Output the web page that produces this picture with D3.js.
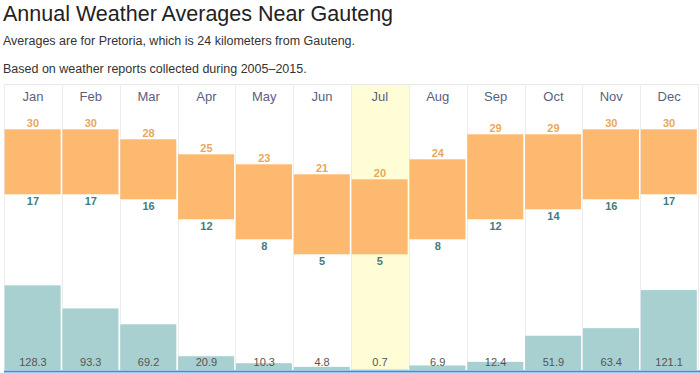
<!DOCTYPE html>
<html>
<head>
<meta charset="utf-8">
<script src="https://cdn.jsdelivr.net/npm/d3@7"></script>
<style>
  body { margin: 0; background: #fff; }
  text { font-family: "Liberation Sans", Arial, sans-serif; }
</style>
</head>
<body>
<svg id="chart"></svg>
<script>
var months = ["Jan", "Feb", "Mar", "Apr", "May", "Jun", "Jul", "Aug", "Sep", "Oct", "Nov", "Dec"];
var highTemps = [30, 30, 28, 25, 23, 21, 20, 24, 29, 29, 30, 30];
var lowTemps = [17, 17, 16, 12, 8, 5, 5, 8, 12, 14, 16, 17];
var precip = [128.3, 93.3, 69.2, 20.9, 10.3, 4.8, 0.7, 6.9, 12.4, 51.9, 63.4, 121.1];
var currentMonth = "Jul";

var width = 700;
var height = 373;
var margin = {top: 84, bottom: 370, left: 4, right: 698};

var svg = d3.select("#chart")
    .attr("width", width)
    .attr("height", height);

// titles
svg.append("text")
    .attr("x", 3).attr("y", 21)
    .style("font-size", "21.5px")
    .style("fill", "#222")
    .text("Annual Weather Averages Near Gauteng");

svg.append("text")
    .attr("x", 3).attr("y", 45)
    .style("font-size", "12.5px")
    .style("fill", "#333")
    .text("Averages are for Pretoria, which is 24 kilometers from Gauteng.");

svg.append("text")
    .attr("x", 3).attr("y", 73)
    .style("font-size", "12.5px")
    .style("fill", "#333")
    .text("Based on weather reports collected during 2005\u20132015.");

var xScale = d3.scaleBand()
    .domain(months)
    .range([margin.left, margin.right])
    .paddingInner(0);

var tempScale = d3.scaleLinear()
    .domain([0, 30])
    .range([279.3, 129.3]);

var precipScale = d3.scaleLinear()
    .domain([0, 140])
    .range([margin.bottom, margin.bottom - 0.66 * 140]);

// highlighted month
svg.append("rect")
    .attr("x", xScale(currentMonth))
    .attr("y", margin.top)
    .attr("width", xScale.bandwidth())
    .attr("height", margin.bottom - margin.top)
    .style("fill", "#fffdd5");

// grid: top line and column dividers
svg.append("line")
    .attr("x1", margin.left).attr("x2", margin.right)
    .attr("y1", margin.top + 0.5).attr("y2", margin.top + 0.5)
    .style("stroke", "#e6e6e6");

svg.selectAll(".divider")
    .data(months.concat(["end"]))
    .enter().append("line")
    .attr("class", "divider")
    .attr("x1", function (d, i) { return Math.round(margin.left + i * xScale.bandwidth()) + 0.5; })
    .attr("x2", function (d, i) { return Math.round(margin.left + i * xScale.bandwidth()) + 0.5; })
    .attr("y1", margin.top)
    .attr("y2", margin.bottom)
    .style("stroke", "#ececec");

// month labels
svg.selectAll(".month")
    .data(months)
    .enter().append("text")
    .attr("class", "month")
    .attr("x", function (d) { return xScale(d) + xScale.bandwidth() / 2; })
    .attr("y", 101)
    .attr("text-anchor", "middle")
    .style("font-size", "13px")
    .style("fill", "#5a5f82")
    .text(function (d) { return d; });

// temperature range bars
svg.selectAll(".temp")
    .data(months)
    .enter().append("rect")
    .attr("class", "temp")
    .attr("x", function (d) { return xScale(d) + 0.6; })
    .attr("y", function (d, i) { return tempScale(highTemps[i]); })
    .attr("width", xScale.bandwidth() - 1.8)
    .attr("height", function (d, i) { return tempScale(lowTemps[i]) - tempScale(highTemps[i]); })
    .style("fill", "#fdb970");

svg.selectAll(".highLabel")
    .data(months)
    .enter().append("text")
    .attr("class", "highLabel")
    .attr("x", function (d) { return xScale(d) + xScale.bandwidth() / 2; })
    .attr("y", function (d, i) { return tempScale(highTemps[i]) - 2.7; })
    .attr("text-anchor", "middle")
    .style("font-size", "11px")
    .style("font-weight", "bold")
    .style("fill", "#e9a75a")
    .text(function (d, i) { return highTemps[i]; });

svg.selectAll(".lowLabel")
    .data(months)
    .enter().append("text")
    .attr("class", "lowLabel")
    .attr("x", function (d) { return xScale(d) + xScale.bandwidth() / 2; })
    .attr("y", function (d, i) { return tempScale(lowTemps[i]) + 10.5; })
    .attr("text-anchor", "middle")
    .style("font-size", "11px")
    .style("font-weight", "bold")
    .style("fill", "#437d7d")
    .text(function (d, i) { return lowTemps[i]; });

// precipitation bars
svg.selectAll(".precip")
    .data(months)
    .enter().append("rect")
    .attr("class", "precip")
    .attr("x", function (d) { return xScale(d) + 0.6; })
    .attr("y", function (d, i) { return precipScale(precip[i]); })
    .attr("width", xScale.bandwidth() - 1.8)
    .attr("height", function (d, i) { return margin.bottom - precipScale(precip[i]); })
    .style("fill", "#a8d0d0");

svg.selectAll(".precipLabel")
    .data(months)
    .enter().append("text")
    .attr("class", "precipLabel")
    .attr("x", function (d) { return xScale(d) + xScale.bandwidth() / 2; })
    .attr("y", 366)
    .attr("text-anchor", "middle")
    .style("font-size", "11px")
    .style("fill", "#555")
    .text(function (d, i) { return precip[i]; });

// bottom blue line
svg.append("rect")
    .attr("x", margin.left)
    .attr("y", margin.bottom + 0.5)
    .attr("width", width - margin.left)
    .attr("height", 2)
    .style("fill", "#3d8fd9");
</script>
</body>
</html>
